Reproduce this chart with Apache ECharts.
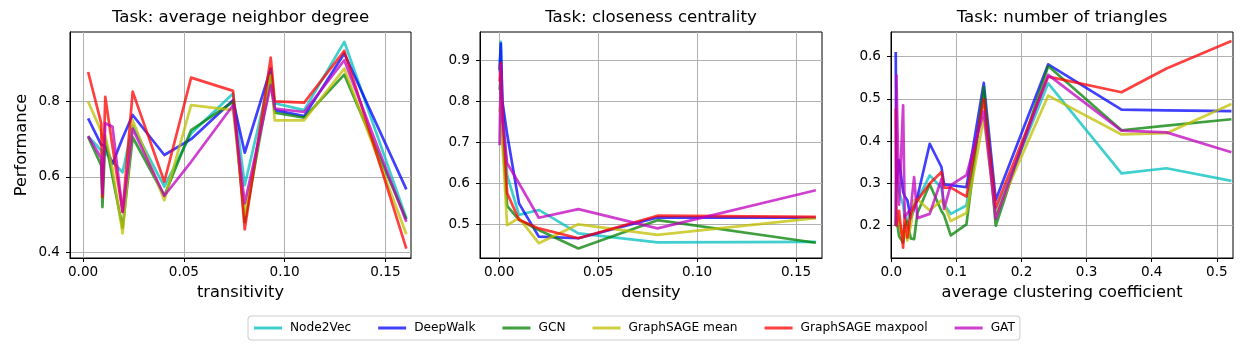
<!DOCTYPE html>
<html>
<head>
<meta charset="utf-8">
<script src="https://cdn.jsdelivr.net/npm/echarts@6/dist/echarts.min.js"></script>
<style>
  html, body { margin: 0; padding: 0; background: #fff; }
  #chart { width: 1242px; height: 352px; }
</style>
</head>
<body>
<div id="chart"></div>
<script>
// 模型名称和颜色
const models = ['Node2Vec', 'DeepWalk', 'GCN', 'GraphSAGE mean', 'GraphSAGE maxpool', 'GAT']
const lineColors = ['#00bfbf', '#0000ff', '#008000', '#bfbf00', '#ff0000', '#bf00bf']
const legendColors = ['#40cfcf', '#4040ff', '#40a040', '#cfcf40', '#ff4040', '#cf40cf']

const titles = ['Task: average neighbor degree', 'Task: closeness centrality', 'Task: number of triangles']
const xNames = ['transitivity', 'density', 'average clustering coefficient']

// 面板 1：transitivity
const transitivity = [0.0025, 0.0090, 0.0096, 0.0110, 0.0146, 0.0196, 0.0246, 0.0403, 0.0536, 0.0744, 0.0802, 0.0931, 0.0951, 0.1097, 0.1296, 0.1604]
const degNode2Vec = [0.708, 0.67, 0.66, 0.665, 0.64, 0.612, 0.735, 0.574, 0.715, 0.821, 0.578, 0.874, 0.795, 0.777, 0.958, 0.49]
const degDeepWalk = [0.755, 0.685, 0.68, 0.682, 0.635, 0.703, 0.764, 0.658, 0.70, 0.803, 0.664, 0.887, 0.777, 0.761, 0.927, 0.567]
const degGCN = [0.706, 0.63, 0.52, 0.70, 0.60, 0.465, 0.705, 0.55, 0.724, 0.799, 0.48, 0.865, 0.77, 0.757, 0.871, 0.487]
const degMean = [0.80, 0.72, 0.70, 0.71, 0.62, 0.45, 0.75, 0.538, 0.79, 0.777, 0.50, 0.87, 0.75, 0.75, 0.887, 0.448]
const degMaxpool = [0.878, 0.742, 0.547, 0.812, 0.68, 0.507, 0.826, 0.587, 0.863, 0.828, 0.461, 0.916, 0.80, 0.797, 0.934, 0.41]
const degGAT = [0.708, 0.65, 0.556, 0.742, 0.733, 0.507, 0.728, 0.55, 0.64, 0.79, 0.53, 0.843, 0.781, 0.772, 0.909, 0.481]

// 面板 2：density
const density = [0.0002, 0.0008, 0.0016, 0.004, 0.01, 0.02, 0.04, 0.08, 0.16]
const cloNode2Vec = [0.87, 0.945, 0.80, 0.62, 0.523, 0.535, 0.478, 0.456, 0.457]
const cloDeepWalk = [0.876, 0.941, 0.80, 0.72, 0.551, 0.47, 0.466, 0.517, 0.516]
const cloGCN = [0.828, 0.86, 0.72, 0.545, 0.511, 0.486, 0.441, 0.51, 0.455]
const cloMean = [0.775, 0.80, 0.70, 0.498, 0.515, 0.454, 0.50, 0.474, 0.515]
const cloMaxpool = [0.848, 0.893, 0.78, 0.576, 0.511, 0.49, 0.466, 0.521, 0.518]
const cloGAT = [0.693, 0.889, 0.76, 0.649, 0.60, 0.516, 0.537, 0.49, 0.583]

// 面板 3：average clustering coefficient
const clustering = [0.0068, 0.0078, 0.0119, 0.0181, 0.0206, 0.0247, 0.0299, 0.035, 0.0401, 0.059, 0.077, 0.081, 0.0913, 0.1154, 0.142, 0.1604, 0.241, 0.3536, 0.4227, 0.5225]
const triNode2Vec = [0.20, 0.32, 0.28, 0.25, 0.22, 0.21, 0.24, 0.25, 0.26, 0.319, 0.29, 0.25, 0.228, 0.248, 0.515, 0.229, 0.537, 0.324, 0.336, 0.306]
const triDeepWalk = [0.611, 0.30, 0.355, 0.28, 0.27, 0.26, 0.217, 0.24, 0.268, 0.394, 0.339, 0.298, 0.296, 0.291, 0.538, 0.261, 0.582, 0.475, 0.473, 0.471]
const triGCN = [0.20, 0.22, 0.175, 0.16, 0.20, 0.21, 0.17, 0.168, 0.23, 0.298, 0.235, 0.225, 0.177, 0.203, 0.528, 0.20, 0.578, 0.426, 0.437, 0.452]
const triMean = [0.20, 0.24, 0.21, 0.17, 0.19, 0.165, 0.20, 0.26, 0.262, 0.236, 0.26, 0.25, 0.211, 0.23, 0.455, 0.225, 0.508, 0.416, 0.419, 0.488]
const triMaxpool = [0.477, 0.20, 0.235, 0.148, 0.225, 0.172, 0.23, 0.245, 0.26, 0.30, 0.327, 0.29, 0.29, 0.269, 0.50, 0.243, 0.553, 0.516, 0.572, 0.637]
const triGAT = [0.20, 0.556, 0.25, 0.485, 0.22, 0.23, 0.24, 0.315, 0.218, 0.228, 0.31, 0.24, 0.296, 0.32, 0.47, 0.217, 0.557, 0.425, 0.421, 0.374]

// 刻度
const xTicks = [[0, 0.05, 0.1, 0.15], [0, 0.05, 0.1, 0.15], [0, 0.1, 0.2, 0.3, 0.4, 0.5]]
const yTicks = [[0.4, 0.6, 0.8], [0.5, 0.6, 0.7, 0.8, 0.9], [0.2, 0.3, 0.4, 0.5, 0.6]]

const panels = [
  { x: transitivity, ys: [degNode2Vec, degDeepWalk, degGCN, degMean, degMaxpool, degGAT] },
  { x: density, ys: [cloNode2Vec, cloDeepWalk, cloGCN, cloMean, cloMaxpool, cloGAT] },
  { x: clustering, ys: [triNode2Vec, triDeepWalk, triGCN, triMean, triMaxpool, triGAT] }
]

const font = 'DejaVu Sans'
const grids = [
  { left: 70, top: 32, width: 341, height: 226 },
  { left: 480, top: 32, width: 342, height: 226 },
  { left: 891, top: 32, width: 342, height: 226 }
]
const xRange = [[-0.0065, 0.1627], [-0.0097, 0.1631], [-0.0005, 0.5249]]
const yRange = [[0.385, 0.984], [0.4178, 0.969], [0.1236, 0.6585]]
const xDigits = [2, 2, 1]

const tickStyle = { show: true, inside: false, length: 4, lineStyle: { color: '#000', width: 1 } }

const xAxis = grids.map((g, i) => ({
  type: 'value',
  gridIndex: i,
  min: xRange[i][0],
  max: xRange[i][1],
  name: xNames[i],
  nameLocation: 'middle',
  nameGap: 27,
  nameTextStyle: { fontFamily: font, fontSize: 16.2, color: '#000' },
  axisLine: { show: true, onZero: false, lineStyle: { color: '#000', width: 1 } },
  axisTick: Object.assign({ customValues: xTicks[i] }, tickStyle),
  axisLabel: {
    customValues: xTicks[i],
    margin: 7,
    fontFamily: font,
    fontSize: 13.6,
    color: '#000',
    formatter: v => v.toFixed(xDigits[i])
  },
  splitLine: { show: true, lineStyle: { color: '#b0b0b0', width: 1 } }
}))

const yAxis = grids.map((g, i) => ({
  type: 'value',
  gridIndex: i,
  min: yRange[i][0],
  max: yRange[i][1],
  name: i === 0 ? 'Performance' : '',
  nameLocation: 'middle',
  nameGap: 40,
  nameTextStyle: { fontFamily: font, fontSize: 16.2, color: '#000' },
  axisLine: { show: true, onZero: false, lineStyle: { color: '#000', width: 1 } },
  axisTick: Object.assign({ customValues: yTicks[i] }, tickStyle),
  axisLabel: {
    customValues: yTicks[i],
    margin: 10,
    fontFamily: font,
    fontSize: 13.6,
    color: '#000',
    formatter: v => v.toFixed(1)
  },
  splitLine: { show: true, lineStyle: { color: '#b0b0b0', width: 1 } }
}))

const series = []
panels.forEach((p, i) => {
  p.ys.forEach((ys, k) => {
    series.push({
      type: 'line',
      name: models[k],
      xAxisIndex: i,
      yAxisIndex: i,
      showSymbol: false,
      symbol: 'none',
      data: p.x.map((x, j) => [x, ys[j]]),
      lineStyle: { color: lineColors[k], width: 2.7, opacity: 0.75, join: 'round' },
      itemStyle: { color: legendColors[k] }
    })
  })
})

const chart = echarts.init(document.getElementById('chart'))
chart.setOption({
  animation: false,
  backgroundColor: '#fff',
  title: grids.map((g, i) => ({
    text: titles[i],
    left: g.left + g.width / 2,
    top: 9,
    textAlign: 'center',
    padding: 0,
    textStyle: { fontFamily: font, fontSize: 16.6, fontWeight: 'normal', color: '#000' }
  })),
  grid: grids.map(g => Object.assign({ show: true, borderColor: '#000', borderWidth: 1, backgroundColor: 'transparent' }, g)),
  xAxis,
  yAxis,
  legend: {
    data: models,
    left: 248,
    top: 316,
    padding: [6, 5, 6, 6],
    itemGap: 27,
    itemWidth: 28,
    itemHeight: 3,
    icon: 'rect',
    borderColor: '#cccccc',
    borderWidth: 1,
    borderRadius: 3,
    selectedMode: false,
    textStyle: { fontFamily: font, fontSize: 12.2, color: '#000', padding: [0, 0, 0, 3] }
  },
  series
})
window.addEventListener('resize', () => chart.resize())
</script>
</body>
</html>
